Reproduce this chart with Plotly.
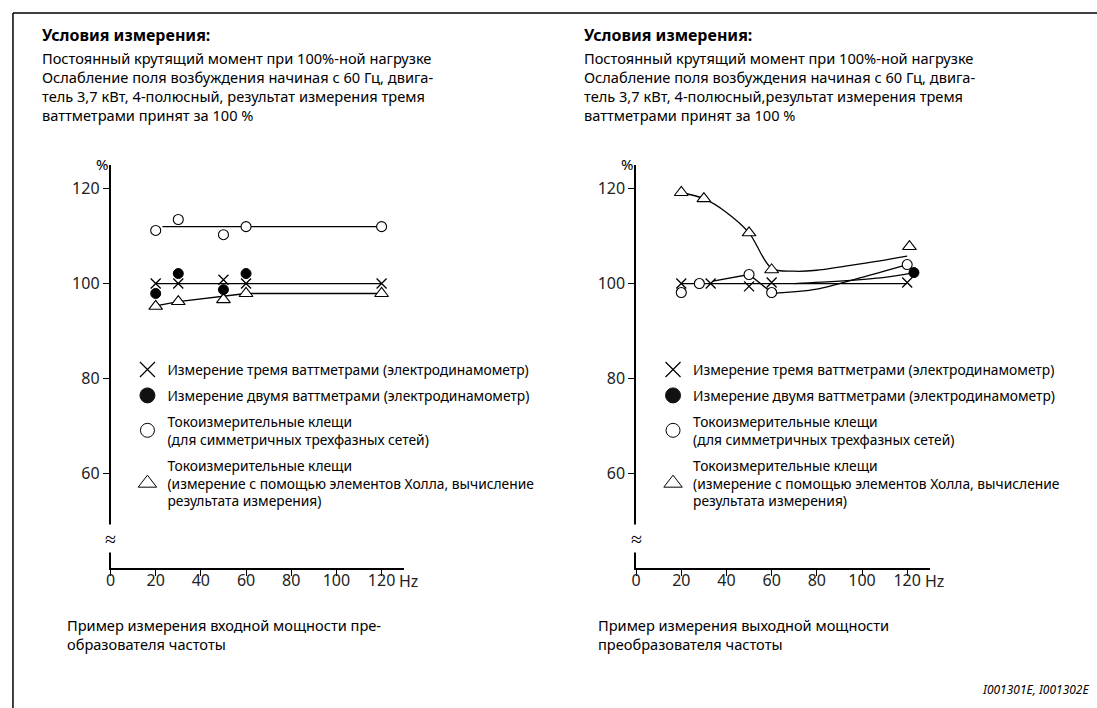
import plotly.graph_objects as go

# ---- data ----
# left chart: input power of the inverter
l_three_x = [20, 30, 50, 60, 120]
l_three_y = [100, 100, 100.8, 100, 100]
l_two_x = [20, 30, 50, 60]
l_two_y = [97.9, 102.1, 98.7, 102.1]
l_clamp_x = [20, 30, 50, 60, 120]
l_clamp_y = [111.2, 113.5, 110.3, 112, 112]
l_hall_x = [20, 30, 50, 60, 120]
l_hall_y = [95.2, 96.2, 96.6, 97.9, 97.9]
# fitted lines, left
l_three_fit_x = [20, 120]
l_three_fit_y = [100, 100]
l_clamp_fit_x = [23, 120]
l_clamp_fit_y = [112, 112]
l_hall_fit_x = [20, 30, 60, 120]
l_hall_fit_y = [95.3, 96.2, 97.9, 97.9]

# right chart: output power of the inverter
r_three_x = [20, 33, 50, 60, 120]
r_three_y = [100, 100, 99.4, 100.2, 100.2]
r_two_x = [123]
r_two_y = [102.3]
r_clamp_x = [20, 28, 50, 60, 120]
r_clamp_y = [98.1, 100, 101.9, 98.1, 104]
r_hall_x = [20, 30, 50, 60, 121]
r_hall_y = [119.2, 117.9, 110.7, 102.9, 107.8]
# fitted lines, right
r_three_fit_x = [20, 120]
r_three_fit_y = [100, 100]
r_clamp_fit1_x = [34, 50, 60]
r_clamp_fit1_y = [100.5, 101.9, 98.1]
r_clamp_fit2_x = [60, 80, 100, 120]
r_clamp_fit2_y = [97.9, 98.8, 101.3, 104]
r_two_fit_x = [70, 90, 110, 123]
r_two_fit_y = [100, 100.5, 101.3, 102.3]
r_hall_fit_x = [20, 30, 40, 50, 60, 70, 80, 100, 120]
r_hall_fit_y = [119.2, 117.9, 115, 110.7, 103.2, 102.6, 102.8, 104.2, 105.8]

x_ticks = [0, 20, 40, 60, 80, 100, 120]
y_ticks = [60, 80, 100, 120]

legend_names = [
    "Измерение тремя ваттметрами (электродинамометр)",
    "Измерение двумя ваттметрами (электродинамометр)",
    "Токоизмерительные клещи<br>(для симметричных трехфазных сетей)",
    "Токоизмерительные клещи<br>(измерение с помощью элементов Холла, вычисление<br>результата измерения)",
]

header_title = "Условия измерения:"
header_left = ["Постоянный крутящий момент при 100%-ной нагрузке",
               "Ослабление поля возбуждения начиная с 60 Гц, двига-",
               "тель 3,7 кВт, 4-полюсный, результат измерения тремя",
               "ваттметрами принят за 100 %"]
header_right = ["Постоянный крутящий момент при 100%-ной нагрузке",
                "Ослабление поля возбуждения начиная с 60 Гц, двига-",
                "тель 3,7 кВт, 4-полюсный,результат измерения тремя",
                "ваттметрами принят за 100 %"]
caption_left = ["Пример измерения входной мощности пре-", "образователя частоты"]
caption_right = ["Пример измерения выходной мощности", "преобразователя частоты"]
footer = "I001301E, I001302E"

FONT = "Noto Sans"
W, H = 1097, 708

def px(x):
    return x / W

def py(y):
    return 1 - y / H

# marker styles
sym = {
    "three": dict(symbol="x-thin-open", size=10, color="black", line=dict(color="black", width=1.3)),
    "two": dict(symbol="circle", size=10, color="black", line=dict(color="black", width=1)),
    "clamp": dict(symbol="circle", size=10, color="white", line=dict(color="black", width=1.1)),
    "hall": dict(symbol="triangle-up", size=12, color="white", line=dict(color="black", width=1.1)),
}
leg_sym = {
    "three": dict(symbol="x-thin-open", size=15, color="black", line=dict(color="black", width=1.2)),
    "two": dict(symbol="circle", size=15, color="#111", line=dict(color="#111", width=1)),
    "clamp": dict(symbol="circle", size=14, color="white", line=dict(color="black", width=1)),
    "hall": dict(symbol="triangle-up", size=16, color="white", line=dict(color="black", width=1)),
}

fig = go.Figure()

def line(x, y, xa, ya, shape="linear"):
    fig.add_trace(go.Scatter(x=x, y=y, xaxis=xa, yaxis=ya, mode="lines",
                             line=dict(color="black", width=1.3, shape=shape, smoothing=0.9),
                             showlegend=False, hoverinfo="skip"))

def pts(x, y, key, xa, ya):
    fig.add_trace(go.Scatter(x=x, y=y, xaxis=xa, yaxis=ya, mode="markers",
                             marker=sym[key], showlegend=False))

# left chart
line(l_three_fit_x, l_three_fit_y, "x", "y")
line(l_clamp_fit_x, l_clamp_fit_y, "x", "y")
line(l_hall_fit_x, l_hall_fit_y, "x", "y")
pts(l_hall_x, l_hall_y, "hall", "x", "y")
pts(l_clamp_x, l_clamp_y, "clamp", "x", "y")
pts(l_three_x, l_three_y, "three", "x", "y")
pts(l_two_x, l_two_y, "two", "x", "y")

# right chart
line(r_three_fit_x, r_three_fit_y, "x2", "y2")
line(r_clamp_fit1_x, r_clamp_fit1_y, "x2", "y2")
line(r_clamp_fit2_x, r_clamp_fit2_y, "x2", "y2", "spline")
line(r_two_fit_x, r_two_fit_y, "x2", "y2", "spline")
line(r_hall_fit_x, r_hall_fit_y, "x2", "y2", "spline")
pts(r_hall_x, r_hall_y, "hall", "x2", "y2")
pts(r_clamp_x, r_clamp_y, "clamp", "x2", "y2")
pts(r_three_x, r_three_y, "three", "x2", "y2")
pts(r_two_x, r_two_y, "two", "x2", "y2")

# legend entries (one legend per chart)
for leg, xa, ya in [("legend", "x", "y"), ("legend2", "x2", "y2")]:
    for key, name in zip(["three", "two", "clamp", "hall"], legend_names):
        fig.add_trace(go.Scatter(x=[None], y=[None], xaxis=xa, yaxis=ya, mode="markers",
                                 marker=leg_sym[key], name=name, legend=leg,
                                 legendgroup=leg + key, showlegend=True))

axis_font = dict(family=FONT, size=16, color="#222")
xcommon = dict(range=[0, 130], tickvals=x_ticks, showline=True, linecolor="black", linewidth=1.5,
               ticks="outside", ticklen=6, tickcolor="black", tickwidth=1.3, showgrid=False,
               zeroline=False, tickfont=axis_font, fixedrange=True, ticklabelstandoff=-9)
ycommon = dict(range=[40, 125], tickvals=y_ticks, showline=True, linecolor="black", linewidth=1.5,
               ticks="outside", ticklen=6, tickcolor="black", tickwidth=1.3, showgrid=False,
               zeroline=False, tickfont=axis_font, fixedrange=True)

legend_common = dict(font=dict(family=FONT, size=13.8, color="black"), bgcolor="rgba(0,0,0,0)",
                     traceorder="grouped", tracegroupgap=5, itemclick=False, itemdoubleclick=False,
                     xanchor="left", yanchor="top", itemwidth=30)

fig.update_layout(
    width=W, height=H,
    margin=dict(l=0, r=0, t=0, b=0),
    paper_bgcolor="white", plot_bgcolor="white",
    font=dict(family=FONT, color="black"),
    xaxis=dict(domain=[px(106), px(401)], anchor="y", **xcommon),
    yaxis=dict(domain=[py(568), py(165)], anchor="x", **ycommon),
    xaxis2=dict(domain=[px(634), px(929)], anchor="y2", **xcommon),
    yaxis2=dict(domain=[py(568), py(165)], anchor="x2", **ycommon),
    legend=dict(x=px(123), y=py(354), **legend_common),
    legend2=dict(x=px(651), y=py(354), **legend_common),
    showlegend=True,
)

ann = []

def text(t, x, y, size, anchor="left"):
    ann.append(dict(text=t, x=px(x), y=py(y), xref="paper", yref="paper",
                    xanchor=anchor, yanchor="middle", align="left", showarrow=False,
                    font=dict(family=FONT, size=size, color="black")))

# headers above the charts
for x0, lines in [(37, header_left), (582, header_right)]:
    text("<b>" + header_title + "</b>", x0 - 2, 35, 16)
    text("<br>".join(lines), x0 - 2, 86.5, 14.6)
# captions under the charts
for x0, lines in [(62, caption_left), (596, caption_right)]:
    text("<br>".join(lines), x0 - 2, 634, 14.6)
text("<i>" + footer + "</i>", 1091, 689, 12, "right")

# axis decorations: unit labels and axis break
for xa, x_axis in [("x", 106), ("x2", 634)]:
    ann.append(dict(text="Hz", x=127, y=py(581), xref=xa, yref="paper", xanchor="left",
                    yanchor="middle", showarrow=False, font=axis_font))
    text("%", x_axis - 9, 164, 15, "center")
    ann.append(dict(text="≈", x=px(x_axis), y=py(538), xref="paper", yref="paper",
                    xanchor="center", yanchor="middle", showarrow=False, bgcolor="white",
                    borderpad=0, font=dict(family=FONT, size=20, color="black")))
fig.update_layout(annotations=ann)

# frame of the page (top and left edge)
fig.add_shape(type="line", xref="paper", yref="paper", x0=px(8), y0=py(13), x1=1, y1=py(13),
              line=dict(color="black", width=1.5))
fig.add_shape(type="line", xref="paper", yref="paper", x0=px(8), y0=0, x1=px(8), y1=py(13),
              line=dict(color="black", width=1.5))

fig.write_html("out.html", config={"displayModeBar": False},
               post_script="document.body.style.margin = '0';")
